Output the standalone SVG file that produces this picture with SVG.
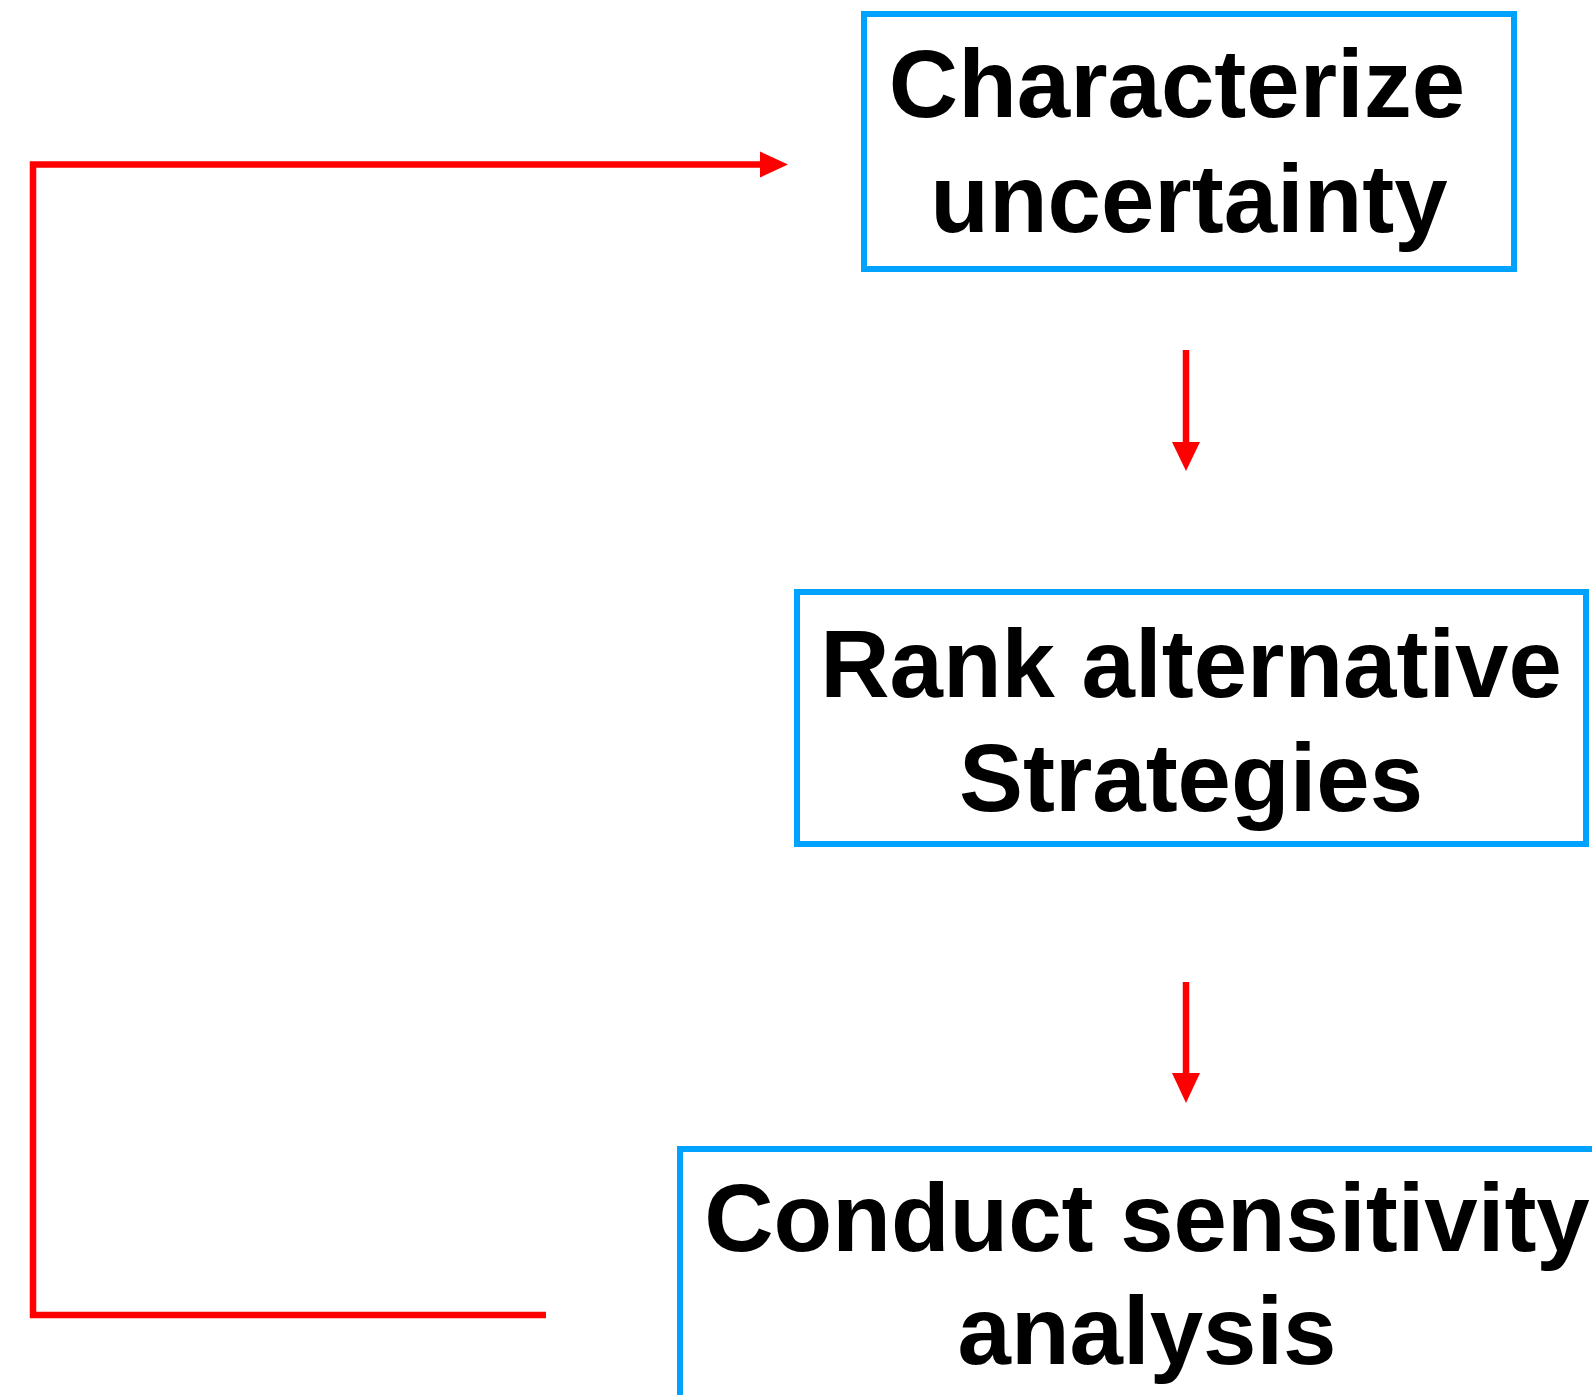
<svg xmlns="http://www.w3.org/2000/svg" width="1592" height="1395" viewBox="0 0 1592 1395">
<style>
.box{fill:#fff;stroke:#00A2FF;stroke-width:6}
.lbl{font-family:"Liberation Sans",Arial,sans-serif;font-weight:bold;font-size:96px;fill:#000;text-anchor:middle}
.con{stroke:#FF0000;stroke-width:6.5;fill:none}
.head{fill:#FF0000}
</style>
<rect width="1592" height="1395" fill="#fff"/>
<g id="connectors">
<polyline class="con" points="546,1315 33,1315 33,164.5 762,164.5"/>
<polygon class="head" points="760,151.5 788,164.5 760,177.5"/>
<line class="con" x1="1186" y1="350" x2="1186" y2="444"/>
<polygon class="head" points="1172,442 1200,442 1186,471"/>
<line class="con" x1="1186" y1="982" x2="1186" y2="1075"/>
<polygon class="head" points="1172,1073 1200,1073 1186,1103"/>
</g>
<g id="node-characterize">
<rect class="box" x="864" y="14" width="650" height="255"/>
<text class="lbl" x="1177" y="117">Characterize</text>
<text class="lbl" x="1189" y="232">uncertainty</text>
</g>
<g id="node-rank">
<rect class="box" x="797" y="592" width="789" height="252"/>
<text class="lbl" x="1191" y="697">Rank alternative</text>
<text class="lbl" x="1191" y="811">Strategies</text>
</g>
<g id="node-conduct">
<rect class="box" x="680" y="1149" width="930" height="260"/>
<text class="lbl" x="1147" y="1251">Conduct sensitivity</text>
<text class="lbl" x="1147" y="1364">analysis</text>
</g>
</svg>
